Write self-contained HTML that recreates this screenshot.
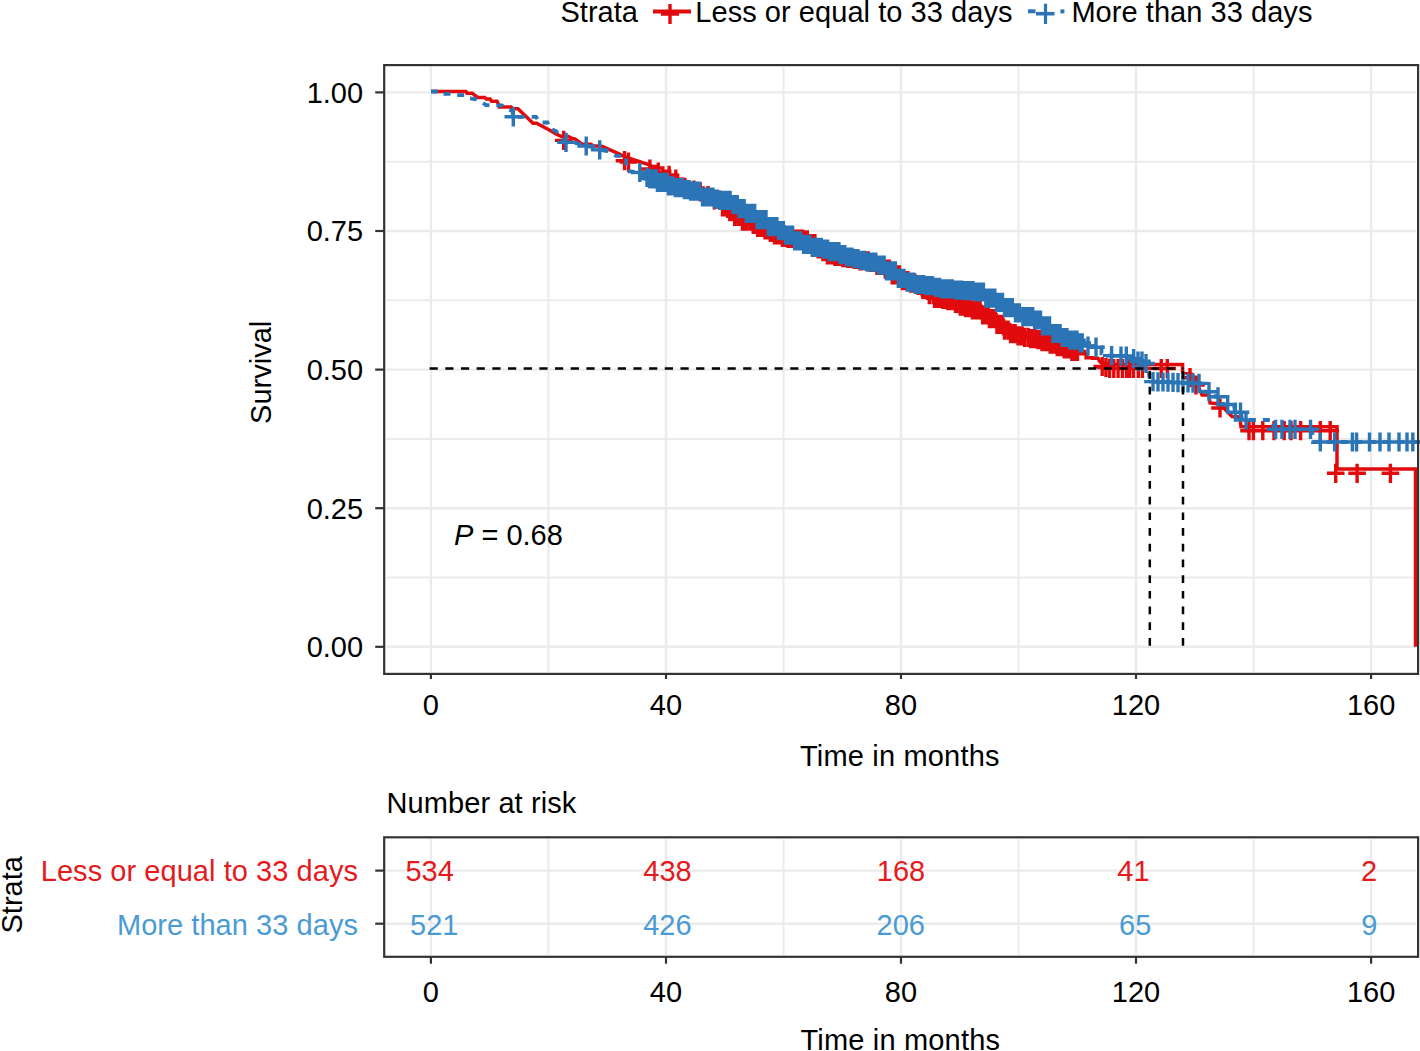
<!DOCTYPE html>
<html><head><meta charset="utf-8"><title>KM plot</title>
<style>
html,body{margin:0;padding:0;background:#fff;}
body{width:1420px;height:1051px;overflow:hidden;}
svg{display:block;font-family:"Liberation Sans",sans-serif;font-size:29px;}
</style></head><body>
<svg width="1420" height="1051" viewBox="0 0 1420 1051">
<rect width="1420" height="1051" fill="#fff"/>
<line x1="548.4" y1="67.1" x2="548.4" y2="671.9" stroke="#EBEBEB" stroke-width="2.0"/>
<line x1="783.5" y1="67.1" x2="783.5" y2="671.9" stroke="#EBEBEB" stroke-width="2.0"/>
<line x1="1018.5" y1="67.1" x2="1018.5" y2="671.9" stroke="#EBEBEB" stroke-width="2.0"/>
<line x1="1253.6" y1="67.1" x2="1253.6" y2="671.9" stroke="#EBEBEB" stroke-width="2.0"/>
<line x1="386.2" y1="577.5" x2="1416.1" y2="577.5" stroke="#EBEBEB" stroke-width="2.0"/>
<line x1="386.2" y1="438.9" x2="1416.1" y2="438.9" stroke="#EBEBEB" stroke-width="2.0"/>
<line x1="386.2" y1="300.3" x2="1416.1" y2="300.3" stroke="#EBEBEB" stroke-width="2.0"/>
<line x1="386.2" y1="161.7" x2="1416.1" y2="161.7" stroke="#EBEBEB" stroke-width="2.0"/>
<line x1="430.9" y1="67.1" x2="430.9" y2="671.9" stroke="#EBEBEB" stroke-width="2.4"/>
<line x1="666.0" y1="67.1" x2="666.0" y2="671.9" stroke="#EBEBEB" stroke-width="2.4"/>
<line x1="901.0" y1="67.1" x2="901.0" y2="671.9" stroke="#EBEBEB" stroke-width="2.4"/>
<line x1="1136.0" y1="67.1" x2="1136.0" y2="671.9" stroke="#EBEBEB" stroke-width="2.4"/>
<line x1="1371.1" y1="67.1" x2="1371.1" y2="671.9" stroke="#EBEBEB" stroke-width="2.4"/>
<line x1="386.2" y1="646.8" x2="1416.1" y2="646.8" stroke="#EBEBEB" stroke-width="2.4"/>
<line x1="386.2" y1="508.2" x2="1416.1" y2="508.2" stroke="#EBEBEB" stroke-width="2.4"/>
<line x1="386.2" y1="369.6" x2="1416.1" y2="369.6" stroke="#EBEBEB" stroke-width="2.4"/>
<line x1="386.2" y1="231.0" x2="1416.1" y2="231.0" stroke="#EBEBEB" stroke-width="2.4"/>
<line x1="386.2" y1="92.4" x2="1416.1" y2="92.4" stroke="#EBEBEB" stroke-width="2.4"/>
<path d="M431.0,91.5 L466.0,91.5 L467.0,93.2 L472.3,93.2 L474.6,95.1 L477.7,97.4 L484.6,97.4 L486.2,99.0 L490.0,99.0 L491.6,101.3 L497.0,101.3 L499.4,106.3 L499.4,107.1 L511.0,107.1 L513.0,108.7 L518.0,108.7 L533.0,123.2 L536.6,123.2 L549.8,130.2 L556.0,134.0 L561.4,136.4 L568.4,136.4 L573.0,138.7 L574.6,138.7 L582.3,144.2 L590.8,144.2 L593.2,145.7 L602.5,146.5 L619.5,154.2 L625.0,157.0 L637.5,161.0 L650.0,165.0 L652.0,166.5 L657.7,166.5 L657.7,168.1 L662.8,168.1 L662.8,171.3 L669.7,171.3 L669.7,175.2 L677.6,175.2 L677.6,179.4 L684.2,179.4 L684.2,183.6 L691.2,183.6 L691.2,186.1 L696.2,186.1 L696.2,187.9 L703.2,187.9 L703.2,191.5 L711.9,191.5 L711.9,196.0 L720.3,196.0 L720.3,202.8 L728.3,202.8 L728.3,207.7 L733.7,207.7 L733.7,212.3 L742.3,212.3 L742.3,217.1 L750.7,217.1 L750.7,220.4 L756.4,220.4 L756.4,223.3 L763.9,223.3 L763.9,226.0 L769.0,226.0 L769.0,228.3 L774.4,228.3 L774.4,230.8 L780.7,230.8 L780.7,233.4 L786.3,233.4 L786.3,234.5 L794.4,234.5 L794.4,235.2 L802.6,235.2 L802.6,235.8 L809.0,235.8 L809.0,239.7 L815.3,239.7 L815.3,245.0 L820.7,245.0 L820.7,247.7 L826.1,247.7 L826.1,251.0 L833.9,251.0 L833.9,252.4 L841.3,252.4 L841.3,253.6 L846.6,253.6 L846.6,254.4 L853.5,254.4 L853.5,255.4 L860.1,255.4 L860.1,256.9 L868.5,256.9 L868.5,258.5 L876.3,258.5 L876.3,261.5 L883.8,261.5 L883.8,265.2 L891.0,265.2 L891.0,270.9 L899.8,270.9 L899.8,276.6 L908.7,276.6 L908.7,279.1 L915.1,279.1 L915.1,281.3 L921.0,281.3 L921.0,285.4 L929.2,285.4 L929.2,290.7 L934.5,290.7 L934.5,294.3 L940.9,294.3 L940.9,295.5 L946.2,295.5 L946.2,296.7 L952.5,296.7 L952.5,299.3 L957.8,299.3 L957.8,302.2 L963.9,302.2 L963.9,303.6 L972.1,303.6 L972.1,305.8 L980.7,305.8 L980.7,310.9 L988.9,310.9 L988.9,314.7 L996.1,314.7 L996.1,320.4 L1003.6,320.4 L1003.6,326.1 L1010.0,326.1 L1010.0,329.7 L1015.7,329.7 L1015.7,331.8 L1022.4,331.8 L1022.4,333.3 L1030.4,333.3 L1030.4,334.6 L1035.6,334.6 L1035.6,335.6 L1040.7,335.6 L1040.7,337.7 L1048.8,337.7 L1048.8,340.2 L1055.0,340.2 L1055.0,342.6 L1062.8,342.6 L1062.8,345.0 L1070.7,345.0 L1070.7,347.5 L1079.5,347.5 L1079.5,353.7 L1086.1,353.7 L1086.1,357.7 L1092.5,357.7 L1092.5,358.2 L1098.0,358.2 L1100.0,362.0 L1110.0,364.5 L1182.6,364.5 L1182.6,372.5 L1192.0,374.0 L1196.0,381.0 L1202.0,395.0 L1209.0,395.0 L1210.0,403.0 L1220.0,404.0 L1232.0,416.5 L1240.0,417.0 L1241.0,426.7 L1337.0,426.7 L1337.0,469.0 L1415.5,469.0 L1415.5,646.8" fill="none" stroke="#E10A0C" stroke-width="3.5" stroke-linejoin="miter"/>
<path d="M554.9,140.4h17.6M563.7,130.8v19.2M615.7,160.7h17.6M624.5,151.1v19.2M619.7,162.1h17.6M628.5,152.5v19.2M641.1,169.0h17.6M649.9,159.4v19.2M649.5,172.1h17.6M658.3,162.5v19.2M660.3,175.3h17.6M669.1,165.7v19.2M667.0,179.2h17.6M675.8,169.6v19.2M676.1,187.6h17.6M684.9,178.0v19.2M685.1,190.1h17.6M693.9,180.5v19.2M691.4,191.9h17.6M700.2,182.3v19.2M699.2,195.5h17.6M708.0,185.9v19.2M705.5,200.0h17.6M714.3,190.4v19.2M710.8,200.0h17.6M719.6,190.4v19.2M713.7,206.8h17.6M722.5,197.2v19.2M716.5,206.8h17.6M725.3,197.2v19.2M719.2,206.8h17.6M728.0,197.2v19.2M721.0,211.7h17.6M729.8,202.1v19.2M723.0,211.7h17.6M731.8,202.1v19.2M725.9,216.3h17.6M734.7,206.7v19.2M729.4,216.3h17.6M738.2,206.7v19.2M730.7,216.3h17.6M739.5,206.7v19.2M733.6,221.1h17.6M742.4,211.5v19.2M736.9,221.1h17.6M745.7,211.5v19.2M737.9,221.1h17.6M746.7,211.5v19.2M741.4,221.1h17.6M750.2,211.5v19.2M744.4,224.4h17.6M753.2,214.8v19.2M745.8,224.4h17.6M754.6,214.8v19.2M748.8,227.3h17.6M757.6,217.7v19.2M751.9,227.3h17.6M760.7,217.7v19.2M753.1,227.3h17.6M761.9,217.7v19.2M756.2,230.0h17.6M765.0,220.4v19.2M759.1,230.0h17.6M767.9,220.4v19.2M761.5,232.3h17.6M770.3,222.7v19.2M763.6,232.3h17.6M772.4,222.7v19.2M765.7,234.8h17.6M774.5,225.2v19.2M768.7,234.8h17.6M777.5,225.2v19.2M771.0,234.8h17.6M779.8,225.2v19.2M773.7,237.4h17.6M782.5,227.8v19.2M776.0,237.4h17.6M784.8,227.8v19.2M779.2,238.5h17.6M788.0,228.9v19.2M781.6,238.5h17.6M790.4,228.9v19.2M783.4,238.5h17.6M792.2,228.9v19.2M786.3,239.2h17.6M795.1,229.6v19.2M788.3,239.2h17.6M797.1,229.6v19.2M791.1,239.2h17.6M799.9,229.6v19.2M793.5,239.2h17.6M802.3,229.6v19.2M796.5,239.8h17.6M805.3,230.2v19.2M798.5,239.8h17.6M807.3,230.2v19.2M801.1,243.7h17.6M809.9,234.1v19.2M804.1,243.7h17.6M812.9,234.1v19.2M806.1,243.7h17.6M814.9,234.1v19.2M809.4,249.0h17.6M818.2,239.4v19.2M810.7,249.0h17.6M819.5,239.4v19.2M814.1,251.7h17.6M822.9,242.1v19.2M816.1,251.7h17.6M824.9,242.1v19.2M818.6,255.0h17.6M827.4,245.4v19.2M821.4,255.0h17.6M830.2,245.4v19.2M823.7,255.0h17.6M832.5,245.4v19.2M826.1,256.4h17.6M834.9,246.8v19.2M827.9,256.4h17.6M836.7,246.8v19.2M830.5,256.4h17.6M839.3,246.8v19.2M834.0,257.6h17.6M842.8,248.0v19.2M836.2,257.6h17.6M845.0,248.0v19.2M839.0,258.4h17.6M847.8,248.8v19.2M841.9,258.4h17.6M850.7,248.8v19.2M844.0,258.4h17.6M852.8,248.8v19.2M845.5,259.4h17.6M854.3,249.8v19.2M848.4,259.4h17.6M857.2,249.8v19.2M851.3,260.9h17.6M860.1,251.3v19.2M853.3,260.9h17.6M862.1,251.3v19.2M856.9,260.9h17.6M865.7,251.3v19.2M859.4,260.9h17.6M868.2,251.3v19.2M861.8,262.5h17.6M870.6,252.9v19.2M863.7,262.5h17.6M872.5,252.9v19.2M866.7,262.5h17.6M875.5,252.9v19.2M868.1,265.5h17.6M876.9,255.9v19.2M870.9,265.5h17.6M879.7,255.9v19.2M873.6,265.5h17.6M882.4,255.9v19.2M876.6,269.2h17.6M885.4,259.6v19.2M878.7,269.2h17.6M887.5,259.6v19.2M880.6,269.2h17.6M889.4,259.6v19.2M883.4,274.9h17.6M892.2,265.3v19.2M885.9,274.9h17.6M894.7,265.3v19.2M888.4,274.9h17.6M897.2,265.3v19.2M890.7,274.9h17.6M899.5,265.3v19.2M893.6,280.6h17.6M902.4,271.0v19.2M896.1,280.6h17.6M904.9,271.0v19.2M899.1,280.6h17.6M907.9,271.0v19.2M901.7,283.1h17.6M910.5,273.5v19.2M903.7,283.1h17.6M912.5,273.5v19.2M906.1,283.1h17.6M914.9,273.5v19.2M909.1,285.3h17.6M917.9,275.7v19.2M911.8,285.3h17.6M920.6,275.7v19.2M914.0,289.4h17.6M922.8,279.8v19.2M916.7,289.4h17.6M925.5,279.8v19.2M919.4,289.4h17.6M928.2,279.8v19.2M920.5,294.7h17.6M929.3,285.1v19.2M924.3,294.7h17.6M933.1,285.1v19.2M925.8,298.3h17.6M934.6,288.7v19.2M928.7,298.3h17.6M937.5,288.7v19.2M931.7,298.3h17.6M940.5,288.7v19.2M934.0,299.5h17.6M942.8,289.9v19.2M935.6,299.5h17.6M944.4,289.9v19.2M939.0,300.7h17.6M947.8,291.1v19.2M940.5,300.7h17.6M949.3,291.1v19.2M943.5,300.7h17.6M952.3,291.1v19.2M946.7,303.3h17.6M955.5,293.7v19.2M948.6,303.3h17.6M957.4,293.7v19.2M951.4,306.2h17.6M960.2,296.6v19.2M954.1,306.2h17.6M962.9,296.6v19.2M956.7,307.6h17.6M965.5,298.0v19.2M959.1,307.6h17.6M967.9,298.0v19.2M960.4,307.6h17.6M969.2,298.0v19.2M963.6,309.8h17.6M972.4,300.2v19.2M966.1,309.8h17.6M974.9,300.2v19.2M968.0,309.8h17.6M976.8,300.2v19.2M971.3,309.8h17.6M980.1,300.2v19.2M973.9,314.9h17.6M982.7,305.3v19.2M976.7,314.9h17.6M985.5,305.3v19.2M979.4,314.9h17.6M988.2,305.3v19.2M980.6,318.7h17.6M989.4,309.1v19.2M983.3,318.7h17.6M992.1,309.1v19.2M986.5,318.7h17.6M995.3,309.1v19.2M988.1,324.4h17.6M996.9,314.8v19.2M990.8,324.4h17.6M999.6,314.8v19.2M993.8,324.4h17.6M1002.6,314.8v19.2M995.7,330.1h17.6M1004.5,320.5v19.2M999.2,330.1h17.6M1008.0,320.5v19.2M1001.8,333.7h17.6M1010.6,324.1v19.2M1003.0,333.7h17.6M1011.8,324.1v19.2M1006.3,333.7h17.6M1015.1,324.1v19.2M1009.2,335.8h17.6M1018.0,326.2v19.2M1012.0,335.8h17.6M1020.8,326.2v19.2M1013.3,335.8h17.6M1022.1,326.2v19.2M1015.7,337.3h17.6M1024.5,327.7v19.2M1019.3,337.3h17.6M1028.1,327.7v19.2M1021.9,338.6h17.6M1030.7,329.0v19.2M1023.2,338.6h17.6M1032.0,329.0v19.2M1026.1,338.6h17.6M1034.9,329.0v19.2M1029.1,339.6h17.6M1037.9,330.0v19.2M1031.8,339.6h17.6M1040.6,330.0v19.2M1033.2,341.7h17.6M1042.0,332.1v19.2M1036.5,341.7h17.6M1045.3,332.1v19.2M1039.2,341.7h17.6M1048.0,332.1v19.2M1041.3,344.2h17.6M1050.1,334.6v19.2M1043.2,344.2h17.6M1052.0,334.6v19.2M1045.5,344.2h17.6M1054.3,334.6v19.2M1048.4,346.6h17.6M1057.2,337.0v19.2M1051.7,346.6h17.6M1060.5,337.0v19.2M1053.0,346.6h17.6M1061.8,337.0v19.2M1055.4,349.0h17.6M1064.2,339.4v19.2M1058.5,349.0h17.6M1067.3,339.4v19.2M1060.5,349.0h17.6M1069.3,339.4v19.2M1063.1,351.5h17.6M1071.9,341.9v19.2M1065.4,351.5h17.6M1074.2,341.9v19.2M1068.7,351.5h17.6M1077.5,341.9v19.2M1093.4,366.5h17.6M1102.2,356.9v19.2M1097.1,367.5h17.6M1105.9,357.9v19.2M1100.8,368.4h17.6M1109.6,358.8v19.2M1105.0,368.5h17.6M1113.8,358.9v19.2M1109.3,368.5h17.6M1118.1,358.9v19.2M1113.6,368.5h17.6M1122.4,358.9v19.2M1117.7,368.5h17.6M1126.5,358.9v19.2M1120.9,368.5h17.6M1129.7,358.9v19.2M1124.7,368.5h17.6M1133.5,358.9v19.2M1129.5,368.5h17.6M1138.3,358.9v19.2M1133.6,368.5h17.6M1142.4,358.9v19.2M1152.5,368.5h17.6M1161.3,358.9v19.2M1158.5,368.5h17.6M1167.3,358.9v19.2M1181.2,377.7h17.6M1190.0,368.1v19.2M1187.2,385.0h17.6M1196.0,375.4v19.2M1211.2,408.0h17.6M1220.0,398.4v19.2M1240.2,430.7h17.6M1249.0,421.1v19.2M1244.6,430.7h17.6M1253.4,421.1v19.2M1254.0,430.7h17.6M1262.8,421.1v19.2M1265.2,430.7h17.6M1274.0,421.1v19.2M1275.4,430.7h17.6M1284.2,421.1v19.2M1282.2,430.7h17.6M1291.0,421.1v19.2M1291.8,430.7h17.6M1300.6,421.1v19.2M1311.5,430.7h17.6M1320.3,421.1v19.2M1321.4,430.7h17.6M1330.2,421.1v19.2M1326.9,473.3h17.6M1335.7,463.7v19.2M1348.3,473.3h17.6M1357.1,463.7v19.2M1381.6,473.3h17.6M1390.4,463.7v19.2" fill="none" stroke="#E10A0C" stroke-width="3.4"/>
<path d="M431.0,91.5 L440.0,91.5 L441.0,93.8 L452.0,93.8 L455.0,95.1 L466.0,95.1 L469.5,98.2 L476.5,99.4 L481.5,102.0 L486.0,105.0 L502.0,105.5 L507.0,108.7 L512.5,111.0 L513.0,116.8 L536.0,116.8 L539.7,122.5 L547.5,122.5 L549.8,128.7 L556.0,131.0 L560.0,137.0 L566.0,142.4 L576.0,143.0 L586.0,146.0 L592.0,147.0 L600.0,150.0 L607.0,151.0 L612.0,153.4 L616.0,155.8 L626.0,156.0 L626.5,171.0 L640.0,172.5 L648.0,178.0 L650.0,178.8 L656.9,178.8 L656.9,182.3 L667.4,182.3 L667.4,185.8 L674.9,185.8 L674.9,187.7 L684.1,187.7 L684.1,189.6 L690.2,189.6 L690.2,191.2 L701.7,191.2 L701.7,197.0 L713.2,197.0 L713.2,199.2 L719.4,199.2 L719.4,200.3 L731.1,200.3 L731.1,204.6 L737.9,204.6 L737.9,208.7 L745.6,208.7 L745.6,213.4 L755.3,213.4 L755.3,219.6 L766.9,219.6 L766.9,226.7 L778.0,226.7 L778.0,230.6 L784.1,230.6 L784.1,235.1 L793.2,235.1 L793.2,240.8 L802.5,240.8 L802.5,244.3 L811.4,244.3 L811.4,247.3 L822.0,247.3 L822.0,249.1 L829.0,249.1 L829.0,251.6 L839.6,251.6 L839.6,254.7 L845.7,254.7 L845.7,257.0 L852.5,257.0 L852.5,258.6 L859.2,258.6 L859.2,260.3 L867.1,260.3 L867.1,262.1 L877.1,262.1 L877.1,265.2 L885.9,265.2 L885.9,270.9 L896.8,270.9 L896.8,278.3 L904.5,278.3 L904.5,282.2 L914.9,282.2 L914.9,284.5 L925.2,284.5 L925.2,285.7 L933.1,285.7 L933.1,287.4 L941.1,287.4 L941.1,288.9 L953.0,288.9 L953.0,290.1 L962.8,290.1 L962.8,290.6 L974.5,290.6 L974.5,292.0 L985.1,292.0 L985.1,298.2 L996.0,298.2 L996.0,302.3 L1004.4,302.3 L1004.4,307.7 L1013.2,307.7 L1013.2,312.9 L1021.6,312.9 L1021.6,316.6 L1033.5,316.6 L1033.5,320.0 L1040.6,320.0 L1040.6,325.9 L1052.4,325.9 L1052.4,333.5 L1060.9,333.5 L1060.9,337.5 L1069.4,337.5 L1069.4,340.1 L1078.2,340.1 L1078.2,342.9 L1086.5,342.9 L1086.5,346.1 L1095.2,346.1 L1095.2,347.2 L1101.5,347.2 L1101.5,353.4 L1108.0,353.4 L1108.0,355.6 L1118.4,355.6 L1118.4,356.0 L1128.2,356.0 L1128.2,358.7 L1134.3,358.7 L1134.3,361.2 L1142.1,361.2 L1142.1,363.5 L1146.0,363.5 L1148.0,365.0 L1150.0,381.5 L1201.0,383.5 L1203.0,391.7 L1215.0,391.7 L1216.0,396.8 L1222.0,396.8 L1223.0,404.5 L1234.0,404.5 L1235.0,412.2 L1241.0,412.2 L1242.0,420.0 L1273.0,420.0 L1274.0,429.3 L1312.0,429.3 L1313.0,442.0 L1418.0,442.0" fill="none" stroke="#2B74B5" stroke-width="3.8" stroke-dasharray="7 7"/>
<path d="M504.5,116.8h17.6M513.3,107.2v19.2M557.2,142.4h17.6M566.0,132.8v19.2M577.4,146.0h17.6M586.2,136.4v19.2M590.9,149.9h17.6M599.7,140.3v19.2M631.0,172.5h17.6M639.8,162.9v19.2M638.2,177.3h17.6M647.0,167.7v19.2M640.7,178.6h17.6M649.5,169.0v19.2M643.0,178.8h17.6M651.8,169.2v19.2M644.9,178.8h17.6M653.7,169.2v19.2M647.4,178.8h17.6M656.2,169.2v19.2M648.6,182.3h17.6M657.4,172.7v19.2M651.1,182.3h17.6M659.9,172.7v19.2M653.3,182.3h17.6M662.1,172.7v19.2M655.3,182.3h17.6M664.1,172.7v19.2M658.5,182.3h17.6M667.3,172.7v19.2M659.6,185.8h17.6M668.4,176.2v19.2M662.6,185.8h17.6M671.4,176.2v19.2M664.1,185.8h17.6M672.9,176.2v19.2M666.6,187.7h17.6M675.4,178.1v19.2M668.9,187.7h17.6M677.7,178.1v19.2M670.8,187.7h17.6M679.6,178.1v19.2M673.4,187.7h17.6M682.2,178.1v19.2M675.6,189.6h17.6M684.4,180.0v19.2M677.6,189.6h17.6M686.4,180.0v19.2M680.3,189.6h17.6M689.1,180.0v19.2M681.8,191.2h17.6M690.6,181.6v19.2M684.0,191.2h17.6M692.8,181.6v19.2M686.4,191.2h17.6M695.2,181.6v19.2M688.7,191.2h17.6M697.5,181.6v19.2M690.6,191.2h17.6M699.4,181.6v19.2M693.7,197.0h17.6M702.5,187.4v19.2M695.8,197.0h17.6M704.6,187.4v19.2M697.1,197.0h17.6M705.9,187.4v19.2M699.6,197.0h17.6M708.4,187.4v19.2M701.7,197.0h17.6M710.5,187.4v19.2M704.1,197.0h17.6M712.9,187.4v19.2M706.1,199.2h17.6M714.9,189.6v19.2M708.6,199.2h17.6M717.4,189.6v19.2M711.3,200.3h17.6M720.1,190.7v19.2M712.9,200.3h17.6M721.7,190.7v19.2M715.4,200.3h17.6M724.2,190.7v19.2M717.5,200.3h17.6M726.3,190.7v19.2M719.9,200.3h17.6M728.7,190.7v19.2M721.3,200.3h17.6M730.1,190.7v19.2M724.3,204.6h17.6M733.1,195.0v19.2M726.7,204.6h17.6M735.5,195.0v19.2M728.5,204.6h17.6M737.3,195.0v19.2M730.3,208.7h17.6M739.1,199.1v19.2M733.0,208.7h17.6M741.8,199.1v19.2M735.3,208.7h17.6M744.1,199.1v19.2M737.4,213.4h17.6M746.2,203.8v19.2M739.0,213.4h17.6M747.8,203.8v19.2M742.2,213.4h17.6M751.0,203.8v19.2M744.3,213.4h17.6M753.1,203.8v19.2M745.9,213.4h17.6M754.7,203.8v19.2M748.3,219.6h17.6M757.1,210.0v19.2M749.8,219.6h17.6M758.6,210.0v19.2M753.2,219.6h17.6M762.0,210.0v19.2M755.2,219.6h17.6M764.0,210.0v19.2M757.2,219.6h17.6M766.0,210.0v19.2M759.5,226.7h17.6M768.3,217.1v19.2M761.0,226.7h17.6M769.8,217.1v19.2M763.4,226.7h17.6M772.2,217.1v19.2M765.5,226.7h17.6M774.3,217.1v19.2M768.1,226.7h17.6M776.9,217.1v19.2M769.7,230.6h17.6M778.5,221.0v19.2M772.9,230.6h17.6M781.7,221.0v19.2M774.6,230.6h17.6M783.4,221.0v19.2M776.7,235.1h17.6M785.5,225.5v19.2M778.5,235.1h17.6M787.3,225.5v19.2M781.4,235.1h17.6M790.2,225.5v19.2M783.8,235.1h17.6M792.6,225.5v19.2M785.8,240.8h17.6M794.6,231.2v19.2M787.5,240.8h17.6M796.3,231.2v19.2M790.3,240.8h17.6M799.1,231.2v19.2M791.8,240.8h17.6M800.6,231.2v19.2M794.8,244.3h17.6M803.6,234.7v19.2M796.7,244.3h17.6M805.5,234.7v19.2M798.5,244.3h17.6M807.3,234.7v19.2M801.0,244.3h17.6M809.8,234.7v19.2M803.4,247.3h17.6M812.2,237.7v19.2M805.1,247.3h17.6M813.9,237.7v19.2M808.0,247.3h17.6M816.8,237.7v19.2M809.7,247.3h17.6M818.5,237.7v19.2M812.5,247.3h17.6M821.3,237.7v19.2M814.6,249.1h17.6M823.4,239.5v19.2M815.9,249.1h17.6M824.7,239.5v19.2M818.8,249.1h17.6M827.6,239.5v19.2M820.6,251.6h17.6M829.4,242.0v19.2M823.3,251.6h17.6M832.1,242.0v19.2M825.3,251.6h17.6M834.1,242.0v19.2M827.3,251.6h17.6M836.1,242.0v19.2M830.1,251.6h17.6M838.9,242.0v19.2M831.3,254.7h17.6M840.1,245.1v19.2M834.1,254.7h17.6M842.9,245.1v19.2M836.0,254.7h17.6M844.8,245.1v19.2M837.8,257.0h17.6M846.6,247.4v19.2M840.9,257.0h17.6M849.7,247.4v19.2M842.9,257.0h17.6M851.7,247.4v19.2M845.5,258.6h17.6M854.3,249.0v19.2M847.3,258.6h17.6M856.1,249.0v19.2M849.2,258.6h17.6M858.0,249.0v19.2M852.2,260.3h17.6M861.0,250.7v19.2M853.3,260.3h17.6M862.1,250.7v19.2M855.5,260.3h17.6M864.3,250.7v19.2M858.5,262.1h17.6M867.3,252.5v19.2M860.2,262.1h17.6M869.0,252.5v19.2M862.4,262.1h17.6M871.2,252.5v19.2M865.3,262.1h17.6M874.1,252.5v19.2M866.8,262.1h17.6M875.6,252.5v19.2M869.7,265.2h17.6M878.5,255.6v19.2M871.6,265.2h17.6M880.4,255.6v19.2M873.4,265.2h17.6M882.2,255.6v19.2M875.3,265.2h17.6M884.1,255.6v19.2M877.7,270.9h17.6M886.5,261.3v19.2M880.8,270.9h17.6M889.6,261.3v19.2M882.3,270.9h17.6M891.1,261.3v19.2M884.2,270.9h17.6M893.0,261.3v19.2M886.6,270.9h17.6M895.4,261.3v19.2M889.5,278.3h17.6M898.3,268.7v19.2M890.8,278.3h17.6M899.6,268.7v19.2M893.7,278.3h17.6M902.5,268.7v19.2M895.2,278.3h17.6M904.0,268.7v19.2M898.4,282.2h17.6M907.2,272.6v19.2M900.0,282.2h17.6M908.8,272.6v19.2M901.7,282.2h17.6M910.5,272.6v19.2M904.9,282.2h17.6M913.7,272.6v19.2M906.4,284.5h17.6M915.2,274.9v19.2M909.1,284.5h17.6M917.9,274.9v19.2M911.0,284.5h17.6M919.8,274.9v19.2M912.7,284.5h17.6M921.5,274.9v19.2M914.9,284.5h17.6M923.7,274.9v19.2M917.2,285.7h17.6M926.0,276.1v19.2M919.4,285.7h17.6M928.2,276.1v19.2M921.5,285.7h17.6M930.3,276.1v19.2M923.7,285.7h17.6M932.5,276.1v19.2M926.9,287.4h17.6M935.7,277.8v19.2M928.1,287.4h17.6M936.9,277.8v19.2M930.8,287.4h17.6M939.6,277.8v19.2M932.5,288.9h17.6M941.3,279.3v19.2M934.9,288.9h17.6M943.7,279.3v19.2M937.7,288.9h17.6M946.5,279.3v19.2M940.1,288.9h17.6M948.9,279.3v19.2M941.8,288.9h17.6M950.6,279.3v19.2M943.4,288.9h17.6M952.2,279.3v19.2M946.8,290.1h17.6M955.6,280.5v19.2M947.9,290.1h17.6M956.7,280.5v19.2M950.5,290.1h17.6M959.3,280.5v19.2M952.8,290.1h17.6M961.6,280.5v19.2M955.5,290.6h17.6M964.3,281.0v19.2M957.6,290.6h17.6M966.4,281.0v19.2M959.5,290.6h17.6M968.3,281.0v19.2M961.5,290.6h17.6M970.3,281.0v19.2M964.2,290.6h17.6M973.0,281.0v19.2M966.4,292.0h17.6M975.2,282.4v19.2M968.6,292.0h17.6M977.4,282.4v19.2M970.7,292.0h17.6M979.5,282.4v19.2M972.1,292.0h17.6M980.9,282.4v19.2M974.6,292.0h17.6M983.4,282.4v19.2M977.0,298.2h17.6M985.8,288.6v19.2M979.2,298.2h17.6M988.0,288.6v19.2M981.8,298.2h17.6M990.6,288.6v19.2M983.3,298.2h17.6M992.1,288.6v19.2M986.0,298.2h17.6M994.8,288.6v19.2M987.8,302.3h17.6M996.6,292.7v19.2M990.5,302.3h17.6M999.3,292.7v19.2M990.8,302.3h17.6M999.6,292.7v19.2M993.7,302.3h17.6M1002.5,292.7v19.2M995.7,307.7h17.6M1004.5,298.1v19.2M998.4,307.7h17.6M1007.2,298.1v19.2M1001.7,307.7h17.6M1010.5,298.1v19.2M1003.5,307.7h17.6M1012.3,298.1v19.2M1006.7,312.9h17.6M1015.5,303.3v19.2M1008.7,312.9h17.6M1017.5,303.3v19.2M1010.6,312.9h17.6M1019.4,303.3v19.2M1014.1,316.6h17.6M1022.9,307.0v19.2M1015.7,316.6h17.6M1024.5,307.0v19.2M1019.1,316.6h17.6M1027.9,307.0v19.2M1020.6,316.6h17.6M1029.4,307.0v19.2M1023.9,316.6h17.6M1032.7,307.0v19.2M1025.8,320.0h17.6M1034.6,310.4v19.2M1028.5,320.0h17.6M1037.3,310.4v19.2M1031.7,320.0h17.6M1040.5,310.4v19.2M1033.7,325.9h17.6M1042.5,316.3v19.2M1036.4,325.9h17.6M1045.2,316.3v19.2M1039.0,325.9h17.6M1047.8,316.3v19.2M1040.7,325.9h17.6M1049.5,316.3v19.2M1044.1,333.5h17.6M1052.9,323.9v19.2M1046.7,333.5h17.6M1055.5,323.9v19.2M1048.3,333.5h17.6M1057.1,323.9v19.2M1051.3,333.5h17.6M1060.1,323.9v19.2M1053.4,337.5h17.6M1062.2,327.9v19.2M1056.5,337.5h17.6M1065.3,327.9v19.2M1058.1,337.5h17.6M1066.9,327.9v19.2M1061.2,340.1h17.6M1070.0,330.5v19.2M1064.1,340.1h17.6M1072.9,330.5v19.2M1066.5,340.1h17.6M1075.3,330.5v19.2M1068.2,340.1h17.6M1077.0,330.5v19.2M1071.6,342.9h17.6M1080.4,333.3v19.2M1073.4,342.9h17.6M1082.2,333.3v19.2M1079.2,346.1h17.6M1088.0,336.5v19.2M1087.2,347.2h17.6M1096.0,337.6v19.2M1102.8,355.6h17.6M1111.6,346.0v19.2M1112.2,356.0h17.6M1121.0,346.4v19.2M1117.5,356.0h17.6M1126.3,346.4v19.2M1124.8,358.7h17.6M1133.6,349.1v19.2M1129.2,361.2h17.6M1138.0,351.6v19.2M1133.2,361.2h17.6M1142.0,351.6v19.2M1137.2,363.5h17.6M1146.0,353.9v19.2M1144.2,381.6h17.6M1153.0,372.0v19.2M1149.2,381.8h17.6M1158.0,372.2v19.2M1154.2,382.0h17.6M1163.0,372.4v19.2M1159.2,382.2h17.6M1168.0,372.6v19.2M1164.2,382.4h17.6M1173.0,372.8v19.2M1169.2,382.6h17.6M1178.0,373.0v19.2M1174.2,382.8h17.6M1183.0,373.2v19.2M1179.2,383.0h17.6M1188.0,373.4v19.2M1184.2,383.2h17.6M1193.0,373.6v19.2M1190.2,383.4h17.6M1199.0,373.8v19.2M1200.2,391.7h17.6M1209.0,382.1v19.2M1209.2,396.8h17.6M1218.0,387.2v19.2M1218.9,404.5h17.6M1227.7,394.9v19.2M1226.6,412.2h17.6M1235.4,402.6v19.2M1231.7,412.2h17.6M1240.5,402.6v19.2M1237.2,420.0h17.6M1246.0,410.4v19.2M1266.8,429.3h17.6M1275.6,419.7v19.2M1273.2,429.3h17.6M1282.0,419.7v19.2M1281.2,429.3h17.6M1290.0,419.7v19.2M1286.2,429.3h17.6M1295.0,419.7v19.2M1301.7,429.3h17.6M1310.5,419.7v19.2M1311.5,442.0h17.6M1320.3,432.4v19.2M1325.9,442.0h17.6M1334.7,432.4v19.2M1343.6,442.0h17.6M1352.4,432.4v19.2M1347.8,442.0h17.6M1356.6,432.4v19.2M1360.7,442.0h17.6M1369.5,432.4v19.2M1371.2,442.0h17.6M1380.0,432.4v19.2M1380.2,442.0h17.6M1389.0,432.4v19.2M1390.2,442.0h17.6M1399.0,432.4v19.2M1398.2,442.0h17.6M1407.0,432.4v19.2M1404.0,442.0h17.6M1412.8,432.4v19.2" fill="none" stroke="#2B74B5" stroke-width="3.4"/>
<path d="M429.6,368.5H1183.5" stroke="#000" stroke-width="2.6" stroke-dasharray="8.2 7.48" fill="none"/>
<path d="M1149.8,645.7V368.5M1183.0,645.7V368.5" stroke="#000" stroke-width="2.5" stroke-dasharray="7.7 8" fill="none"/>
<rect x="384.2" y="65.1" width="1033.9" height="608.8" fill="none" stroke="#333333" stroke-width="2.2"/>
<line x1="375.2" y1="646.8" x2="384.2" y2="646.8" stroke="#333333" stroke-width="2.2"/>
<text x="363.1" y="657.1" text-anchor="end">0.00</text>
<line x1="375.2" y1="508.2" x2="384.2" y2="508.2" stroke="#333333" stroke-width="2.2"/>
<text x="363.1" y="518.5" text-anchor="end">0.25</text>
<line x1="375.2" y1="369.6" x2="384.2" y2="369.6" stroke="#333333" stroke-width="2.2"/>
<text x="363.1" y="379.9" text-anchor="end">0.50</text>
<line x1="375.2" y1="231.0" x2="384.2" y2="231.0" stroke="#333333" stroke-width="2.2"/>
<text x="363.1" y="241.3" text-anchor="end">0.75</text>
<line x1="375.2" y1="92.4" x2="384.2" y2="92.4" stroke="#333333" stroke-width="2.2"/>
<text x="363.1" y="102.7" text-anchor="end">1.00</text>
<line x1="430.9" y1="673.9" x2="430.9" y2="679" stroke="#333333" stroke-width="2.2"/>
<text x="430.9" y="715.3" text-anchor="middle">0</text>
<line x1="666.0" y1="673.9" x2="666.0" y2="679" stroke="#333333" stroke-width="2.2"/>
<text x="666.0" y="715.3" text-anchor="middle">40</text>
<line x1="901.0" y1="673.9" x2="901.0" y2="679" stroke="#333333" stroke-width="2.2"/>
<text x="901.0" y="715.3" text-anchor="middle">80</text>
<line x1="1136.0" y1="673.9" x2="1136.0" y2="679" stroke="#333333" stroke-width="2.2"/>
<text x="1136.0" y="715.3" text-anchor="middle">120</text>
<line x1="1371.1" y1="673.9" x2="1371.1" y2="679" stroke="#333333" stroke-width="2.2"/>
<text x="1371.1" y="715.3" text-anchor="middle">160</text>
<text x="799.95" y="766" textLength="199.5">Time in months</text>
<text transform="translate(270.6,372.3) rotate(-90)" text-anchor="middle">Survival</text>
<text x="454.0" y="544.7"><tspan font-style="italic">P</tspan> = 0.68</text>
<text x="560.5" y="22.2">Strata</text>
<line x1="653" y1="11.6" x2="691" y2="11.6" stroke="#E10A0C" stroke-width="4"/>
<path d="M661,14 h18 M670,4 v20" stroke="#E10A0C" stroke-width="3.4" fill="none"/>
<text x="695.3" y="22.2" textLength="317.2">Less or equal to 33 days</text>
<line x1="1028" y1="11.3" x2="1035.5" y2="11.3" stroke="#2B74B5" stroke-width="4"/>
<line x1="1036" y1="13.7" x2="1054.5" y2="13.7" stroke="#2B74B5" stroke-width="3.6"/>
<line x1="1045.5" y1="3.7" x2="1045.5" y2="24" stroke="#2B74B5" stroke-width="3.2"/>
<rect x="1060.4" y="9.4" width="4" height="4" fill="#2B74B5"/>
<text x="1071.4" y="22.2" textLength="241.0">More than 33 days</text>
<text x="386.5" y="813.3" textLength="189.8">Number at risk</text>
<line x1="548.4" y1="839.3" x2="548.4" y2="954.8" stroke="#EBEBEB" stroke-width="2.0"/>
<line x1="783.5" y1="839.3" x2="783.5" y2="954.8" stroke="#EBEBEB" stroke-width="2.0"/>
<line x1="1018.5" y1="839.3" x2="1018.5" y2="954.8" stroke="#EBEBEB" stroke-width="2.0"/>
<line x1="1253.6" y1="839.3" x2="1253.6" y2="954.8" stroke="#EBEBEB" stroke-width="2.0"/>
<line x1="430.9" y1="839.3" x2="430.9" y2="954.8" stroke="#EBEBEB" stroke-width="2.4"/>
<line x1="666.0" y1="839.3" x2="666.0" y2="954.8" stroke="#EBEBEB" stroke-width="2.4"/>
<line x1="901.0" y1="839.3" x2="901.0" y2="954.8" stroke="#EBEBEB" stroke-width="2.4"/>
<line x1="1136.0" y1="839.3" x2="1136.0" y2="954.8" stroke="#EBEBEB" stroke-width="2.4"/>
<line x1="1371.1" y1="839.3" x2="1371.1" y2="954.8" stroke="#EBEBEB" stroke-width="2.4"/>
<line x1="386.2" y1="870.6" x2="1416.1" y2="870.6" stroke="#EBEBEB" stroke-width="2.4"/>
<line x1="386.2" y1="923.7" x2="1416.1" y2="923.7" stroke="#EBEBEB" stroke-width="2.4"/>
<text x="429.65" y="880.6" text-anchor="middle" fill="#E41A1C">534</text>
<text x="434.25" y="935.0" text-anchor="middle" fill="#4A9BD4">521</text>
<text x="667.5" y="880.6" text-anchor="middle" fill="#E41A1C">438</text>
<text x="667.4" y="935.0" text-anchor="middle" fill="#4A9BD4">426</text>
<text x="901.0" y="880.6" text-anchor="middle" fill="#E41A1C">168</text>
<text x="900.7" y="935.0" text-anchor="middle" fill="#4A9BD4">206</text>
<text x="1133.4" y="880.6" text-anchor="middle" fill="#E41A1C">41</text>
<text x="1135.15" y="935.0" text-anchor="middle" fill="#4A9BD4">65</text>
<text x="1368.95" y="880.6" text-anchor="middle" fill="#E41A1C">2</text>
<text x="1369.4" y="935.0" text-anchor="middle" fill="#4A9BD4">9</text>
<rect x="384.2" y="837.3" width="1033.9" height="119.5" fill="none" stroke="#333333" stroke-width="2.2"/>
<line x1="375.2" y1="870.6" x2="384.2" y2="870.6" stroke="#333333" stroke-width="2.2"/>
<line x1="375.2" y1="923.7" x2="384.2" y2="923.7" stroke="#333333" stroke-width="2.2"/>
<text x="357.95" y="880.6" text-anchor="end" textLength="317.2" fill="#E41A1C">Less or equal to 33 days</text>
<text x="357.95" y="935.0" text-anchor="end" textLength="241.0" fill="#4A9BD4">More than 33 days</text>
<text transform="translate(22.2,894.8) rotate(-90)" text-anchor="middle">Strata</text>
<line x1="430.9" y1="956.8" x2="430.9" y2="963.7" stroke="#333333" stroke-width="2.2"/>
<text x="430.9" y="1002.2" text-anchor="middle">0</text>
<line x1="666.0" y1="956.8" x2="666.0" y2="963.7" stroke="#333333" stroke-width="2.2"/>
<text x="666.0" y="1002.2" text-anchor="middle">40</text>
<line x1="901.0" y1="956.8" x2="901.0" y2="963.7" stroke="#333333" stroke-width="2.2"/>
<text x="901.0" y="1002.2" text-anchor="middle">80</text>
<line x1="1136.0" y1="956.8" x2="1136.0" y2="963.7" stroke="#333333" stroke-width="2.2"/>
<text x="1136.0" y="1002.2" text-anchor="middle">120</text>
<line x1="1371.1" y1="956.8" x2="1371.1" y2="963.7" stroke="#333333" stroke-width="2.2"/>
<text x="1371.1" y="1002.2" text-anchor="middle">160</text>
<text x="800.45" y="1050.3" textLength="199.5">Time in months</text>
</svg>
</body></html>
